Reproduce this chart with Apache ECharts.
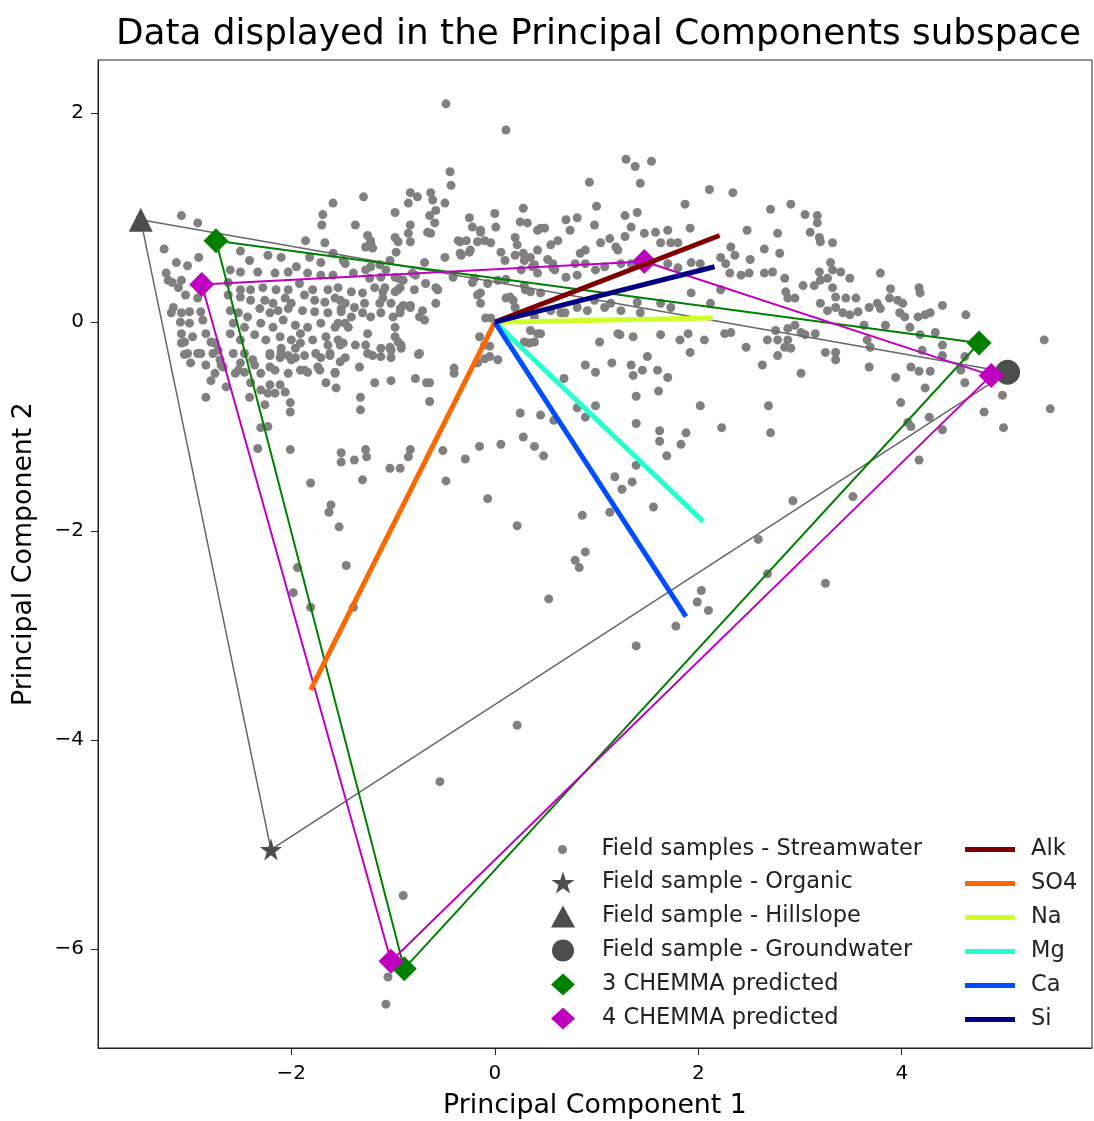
<!DOCTYPE html>
<html>
<head>
<meta charset="utf-8">
<title>PCA subspace</title>
<script src="https://cdn.jsdelivr.net/npm/echarts@6/dist/echarts.min.js"></script>
<style>
  html, body { margin: 0; padding: 0; background: #fff; }
  #chart { width: 1094px; height: 1121px; }
</style>
</head>
<body>
<div id="chart"></div>
<script>
// streamwater samples projected on PC1 / PC2
var streamwater = [
  [-3.08,1.02],[-2.92,0.95],[-1.59,1.14],[-1.29,1.20],[-1.69,1.03],[-1.70,0.93],[-1.37,0.93],[-1.25,0.83],[-1.22,0.76],[-3.25,0.70],
  [-3.13,0.57],[-3.02,0.54],[-2.91,0.62],[-2.50,0.68],[-3.23,0.47],[-3.17,0.38],[-3.11,0.33],[-3.16,0.14],[-1.86,0.78],[-1.67,0.76],
  [-2.41,0.59],[-2.60,0.50],[-2.50,0.48],[-2.33,0.48],[-2.23,0.64],[-2.10,0.62],[-2.16,0.47],[-2.03,0.48],[-1.95,0.53],[-1.82,0.62],
  [-1.71,0.57],[-1.59,0.66],[-1.49,0.59],[-1.84,0.47],[-1.71,0.45],[-1.59,0.45],[-3.21,0.40],[-3.08,0.40],[-3.04,0.26],[-2.92,0.23],
  [-2.62,0.38],[-2.50,0.31],[-2.40,0.31],[-2.28,0.33],[-2.15,0.31],[-2.03,0.31],[-1.92,0.37],[-1.79,0.31],[-1.64,0.31],[-1.54,0.33],
  [-2.62,0.26],[-2.50,0.24],[-2.40,0.21],[-2.26,0.21],[-2.18,0.18],[-2.06,0.23],[-2.00,0.18],[-1.87,0.26],[-1.77,0.21],[-1.67,0.19],
  [-1.57,0.23],[-1.47,0.18],[-3.18,0.09],[-3.08,0.09],[-3.00,0.10],[-2.89,0.10],[-3.09,0.00],[-3.00,-0.01],[-2.87,0.02],[-2.60,0.11],
  [-2.52,0.09],[-2.43,0.05],[-2.31,0.13],[-2.21,0.09],[-2.13,0.11],[-2.03,0.13],[-1.89,0.11],[-1.77,0.10],[-1.64,0.09],[-1.51,0.10],
  [-2.57,-0.01],[-2.46,-0.05],[-2.30,-0.01],[-2.18,-0.05],[-2.08,0.02],[-1.96,-0.03],[-1.84,-0.05],[-1.71,-0.01],[-1.57,-0.05],[-1.47,-0.01],
  [-3.08,-0.11],[-3.08,-0.20],[-2.97,-0.14],[-2.84,-0.11],[-2.75,-0.20],[-2.60,-0.11],[-2.50,-0.17],[-2.36,-0.12],[-2.25,-0.17],[-2.11,-0.14],
  [-2.00,-0.17],[-1.91,-0.11],[-1.79,-0.17],[-1.66,-0.14],[-1.54,-0.17],[-3.02,-0.30],[-2.89,-0.30],[-2.72,-0.27],[-2.57,-0.30],[-2.46,-0.30],
  [-2.38,-0.36],[-2.21,-0.30],[-2.10,-0.29],[-2.00,-0.36],[-1.87,-0.32],[-1.76,-0.30],[-1.62,-0.32],[-1.52,-0.38],[-2.99,-0.39],[-2.84,-0.41],
  [-2.69,-0.41],[-2.52,-0.46],[-2.16,-0.46],[-2.03,-0.49],[-1.87,-0.46],[-1.72,-0.46],[-1.57,-0.48],
  [-3.05,-0.19],[-2.79,-0.19],[-3.05,-0.31],[-2.92,-0.30],[-2.77,-0.30],[-2.70,-0.36],[-2.67,-0.43],[-2.75,-0.49],[-2.79,-0.56],[-2.64,-0.62],
  [-2.55,-0.49],[-2.50,-0.39],[-2.46,-0.48],[-2.36,-0.41],[-2.30,-0.49],[-2.40,-0.58],[-2.30,-0.65],[-2.21,-0.60],[-2.11,-0.60],[-2.16,-0.68],
  [-2.06,-0.67],[-2.23,-0.68],[-2.01,-0.77],[-2.01,-0.86],[-2.41,-0.72],[-2.26,-0.79],[-2.84,-0.72],[-2.30,-1.01],[-2.23,-1.00],[-2.33,-1.21],
  [-2.01,-1.22],[-2.21,-0.32],[-2.21,-0.43],[-2.11,-0.34],[-2.10,-0.25],[-2.03,-0.32],[-1.96,-0.25],[-1.96,-0.34],[-1.91,-0.20],[-1.91,-0.46],
  [-1.84,-0.48],[-1.74,-0.43],[-1.71,-0.34],[-1.64,-0.22],[-1.62,-0.30],[-1.52,-0.22],[-1.47,-0.34],[-1.57,-0.49],[-1.66,-0.58],[-1.56,-0.63],
  [-1.33,-0.43],[-1.27,-0.22],[-1.20,-0.32],[-1.12,-0.33],[-1.03,-0.25],[-1.02,-0.34],[-0.92,-0.25],[-0.75,-0.31],[-1.18,-0.58],[-1.02,-0.56],
  [-0.78,-0.54],[-0.67,-0.58],[-0.64,-0.76],[-1.32,-0.72],[-1.32,-0.84],[-1.51,-1.25],[-1.51,-1.34],[-1.38,-1.32],[-1.27,-1.22],[-1.26,-1.29],
  [-0.83,-1.22],[-0.85,-1.29],[-1.03,-1.40],[-0.93,-1.40],[-1.30,-1.51],[-1.81,-1.54],[-1.61,-1.75],[-1.63,-1.82],[-1.53,-1.96],[-1.46,-2.33],
  [-1.94,-2.35],[-1.98,-2.59],[-1.81,-2.73],[-1.39,-2.73],
  [-0.44,1.44],[-0.43,1.31],[-0.83,1.24],[-0.76,1.20],[-0.85,1.14],[-0.63,1.24],[-0.61,1.17],[-0.49,1.14],[-0.98,1.05],[-0.64,1.02],
  [-0.58,1.07],[-0.59,0.95],[-0.66,0.86],[-1.22,0.78],[-1.27,0.72],[-1.20,0.71],[-0.98,0.81],[-0.95,0.77],[-0.85,0.85],[-0.83,0.77],
  [-0.97,0.67],[-1.03,0.59],[-0.49,0.62],[-0.69,0.57],[-1.47,0.56],[-1.39,0.47],[-1.27,0.50],[-1.22,0.53],[-1.13,0.55],[-1.07,0.50],
  [-1.23,0.42],[-1.12,0.43],[-0.98,0.43],[-0.90,0.40],[-0.78,0.45],[-0.68,0.37],[-0.58,0.33],[-0.41,0.43],[-1.52,0.21],[-1.41,0.29],
  [-1.30,0.28],[-1.18,0.33],[-1.10,0.29],[-0.98,0.29],[-0.93,0.33],[-0.79,0.31],[-1.51,0.13],[-1.38,0.14],[-1.28,0.18],[-1.13,0.18],
  [-1.02,0.18],[-0.90,0.16],[-0.83,0.16],[-0.71,0.11],[-0.58,0.18],[-1.41,0.05],[-1.30,0.09],[-1.22,0.05],[-1.12,0.09],[-1.00,0.05],
  [-0.93,0.09],[-0.74,0.05],[-0.69,0.02],[-1.54,-0.01],[-1.44,-0.05],[-1.25,-0.11],[-0.98,-0.05],[-0.98,-0.14],[-0.95,-0.19],[-1.49,-0.20],
  [-1.37,-0.22],[-1.25,-0.30],[-1.12,-0.25],[-1.02,-0.27],[-0.74,-0.30],[-0.25,1.00],[-0.22,0.91],[-0.14,0.88],[-0.28,0.78],[-0.36,0.78],
  [-0.24,0.69],[-0.17,0.77],[-0.10,0.78],[-0.04,0.76],[0.00,1.04],[-0.33,0.64],[0.06,0.67],[0.10,0.59],[0.20,0.81],[0.28,1.09],
  [0.25,0.96],[0.32,0.95],[0.20,0.64],[0.28,0.66],[0.35,0.62],[0.39,0.55],[0.42,0.88],[-0.14,0.28],[-0.22,0.38],[-0.07,0.37],
  [0.03,0.40],[0.15,0.24],[0.18,0.21],[0.29,0.35],[0.35,0.29],[0.35,-0.08],[0.39,-0.19],[0.29,-0.19],[-0.10,-0.22],[-0.05,-0.33],
  [-0.09,0.04],
  [-0.48,2.09],[0.11,1.84],[1.29,1.56],[1.38,1.49],[1.54,1.54],[1.43,1.33],[0.93,1.34],[2.11,1.27],[1.87,1.13],[1.00,1.11],
  [1.28,1.02],[1.40,1.05],[0.98,0.93],[-0.83,0.93],[0.01,0.91],[-0.14,0.86],[-0.63,0.85],[-0.34,0.77],[0.22,0.74],[0.45,0.90],
  [0.49,0.90],[0.70,0.98],[0.81,1.00],[0.74,0.88],[0.55,0.74],[0.62,0.78],[1.04,0.76],[1.13,0.80],[1.19,0.72],[1.28,0.82],
  [1.47,0.85],[1.58,0.86],[1.70,0.88],[1.92,0.90],[0.89,0.69],[0.84,0.66],[1.21,0.69],[1.34,0.91],[1.63,0.76],[1.73,0.76],
  [1.80,0.76],[-0.34,0.66],[-0.25,0.67],[0.29,0.59],[0.42,0.69],[0.52,0.60],[0.57,0.56],[0.57,0.52],[0.79,0.56],[0.89,0.56],
  [-0.95,0.42],[-0.81,0.47],[-0.20,0.42],[0.11,0.41],[0.26,0.50],[0.37,0.53],[0.42,0.47],[0.59,0.50],[0.70,0.43],[0.81,0.45],
  [0.99,0.50],[1.08,0.53],[1.24,0.56],[1.34,0.56],[1.70,0.56],[1.80,0.52],[1.93,0.57],[2.02,0.56],[2.22,0.62],[2.27,0.56],
  [-1.08,0.33],[-0.95,0.31],[-0.56,0.31],[-1.10,0.23],[-0.93,0.13],[-0.83,0.14],[-0.17,0.26],[-0.14,0.18],[0.11,0.23],[0.20,0.14],
  [0.30,0.31],[0.45,0.28],[0.55,0.11],[0.69,0.09],[0.81,0.14],[0.91,0.11],[0.98,0.21],[1.08,0.14],[1.14,0.18],[1.24,0.11],
  [1.40,0.19],[1.43,0.09],[1.63,0.18],[1.73,0.14],[1.93,0.28],[2.12,0.18],[2.22,0.31],[-1.03,-0.24],[-0.92,-0.22],[-0.04,0.04],
  [0.39,0.05],[0.65,0.09],[1.21,-0.11],[1.36,-0.14],[1.63,-0.12],[1.82,-0.17],[1.90,-0.11],[2.06,-0.17],[2.26,-0.11],[1.03,-0.19],
  [0.42,-0.11],
  [2.34,1.24],[2.71,1.08],[2.91,1.13],[3.05,1.03],[3.17,1.02],[3.17,0.95],[3.10,0.86],[3.19,0.81],[3.20,0.77],[3.32,0.76],
  [2.48,0.88],[2.78,0.85],[2.32,0.72],[2.36,0.64],[2.51,0.60],[2.65,0.70],[2.80,0.66],[2.31,0.47],[2.42,0.45],[2.50,0.47],
  [2.65,0.47],[2.73,0.48],[2.85,0.42],[3.30,0.57],[3.32,0.50],[3.40,0.48],[3.19,0.48],[3.20,0.40],[3.14,0.35],[3.03,0.35],
  [3.27,0.42],[3.49,0.42],[3.79,0.47],[2.86,0.29],[2.88,0.23],[2.95,0.23],[3.32,0.33],[3.35,0.24],[3.45,0.23],[3.20,0.18],
  [3.27,0.11],[3.35,0.14],[3.42,0.09],[3.49,0.07],[3.55,0.23],[3.57,0.10],[3.68,0.14],[3.76,0.18],[3.79,0.13],[3.89,0.32],
  [3.88,0.23],[3.96,0.21],[3.98,0.09],[4.01,0.18],[4.03,0.05],[4.17,0.33],[4.18,0.28],[4.16,0.05],[4.23,0.07],[4.28,0.09],
  [4.40,0.16],[4.63,0.07],[4.33,-0.10],[3.84,-0.03],[3.63,-0.03],[3.66,-0.17],[3.69,-0.24],[3.68,-0.43],[4.08,-0.05],[4.18,-0.12],
  [4.20,-0.27],[4.40,-0.22],[4.40,-0.32],[4.62,-0.33],[2.95,-0.03],[3.01,-0.10],[2.88,-0.06],[2.76,-0.08],[2.78,-0.17],[2.68,-0.17],
  [2.88,-0.17],[2.85,-0.24],[2.78,-0.32],[2.91,-0.25],[3.05,-0.12],[3.15,-0.11],[3.25,-0.29],[3.35,-0.29],[3.35,-0.36],[2.63,-0.41],
  [2.47,-0.24],[2.32,-0.10],[3.01,-0.49],[3.94,-0.53],[4.09,-0.43],[4.17,-0.47],[4.28,-0.47],[4.23,-0.63],[3.99,-0.77],[4.06,-0.96],
  [4.27,-0.91],[4.40,-1.03],[4.17,-1.32],[4.81,-0.86],[4.99,-0.70],[5.00,-1.01],[5.40,-0.17],[5.46,-0.83],[2.69,-0.80],[2.71,-1.06],
  [2.23,-1.01],[4.58,-0.46],[4.62,-0.58],
  [2.02,-0.80],[4.09,-1.00],[2.93,-1.71],[3.52,-1.67],[2.59,-2.08],[2.68,-2.41],[3.25,-2.50],[2.03,-2.57],[1.99,-2.68],[2.10,-2.76],
  [-0.15,-0.14],[-0.05,-0.23],[-0.10,-0.35],[0.03,-0.36],[-0.17,-0.39],[-0.40,-0.44],[-0.40,-0.49],[-0.64,-0.58],[0.34,-0.20],[0.45,-0.11],
  [1.23,-0.12],[1.50,-0.33],[1.92,-0.29],[0.89,-0.41],[0.99,-0.48],[1.15,-0.39],[1.34,-0.41],[1.45,-0.46],[1.36,-0.51],[1.60,-0.46],
  [1.70,-0.53],[0.68,-0.54],[1.39,-0.71],[1.61,-0.66],[0.25,-0.87],[0.45,-0.89],[0.58,-0.94],[0.81,-0.82],[0.89,-0.91],[0.99,-0.80],
  [1.39,-0.97],[1.62,-1.04],[1.62,-1.14],[1.88,-1.06],[1.83,-1.17],[1.69,-1.28],[0.28,-1.10],[0.39,-1.19],[0.48,-1.28],[0.06,-1.17],
  [-0.15,-1.19],[-0.29,-1.31],[-0.51,-1.23],[-0.48,-1.52],[-0.07,-1.69],[0.22,-1.95],[1.39,-1.37],[1.18,-1.48],[1.35,-1.53],[1.25,-1.60],
  [1.56,-1.77],[1.13,-1.82],[0.86,-1.85],[0.89,-2.20],[0.79,-2.28],[0.83,-2.35],[0.53,-2.65],[1.78,-2.91],[1.39,-3.10],[0.22,-3.86],
  [-0.54,-4.40],[-0.90,-5.49],[-1.05,-6.27],[-1.07,-6.53]
];

// end members
var organic = [[-2.20, -5.05]];
var hillslope = [[-3.48, 0.98]];
var groundwater = [[5.04, -0.48]];

// CHEMMA predicted end members
var chemma3 = [[-2.74, 0.78], [4.76, -0.20], [-0.89, -6.19]];
var chemma4 = [[-2.88, 0.36], [1.47, 0.58], [4.88, -0.51], [-1.02, -6.12]];

// solute loadings
var solutes = ['Alk', 'SO4', 'Na', 'Mg', 'Ca', 'Si'];
var loadPC1 = [2.21, -1.81, 2.14, 2.05, 1.88, 2.16];
var loadPC2 = [0.83, -3.52, 0.04, -1.91, -2.82, 0.53];

var xTicks = [-2, 0, 2, 4];
var yTicks = [-6, -4, -2, 0, 2];
var xRange = [-3.9, 5.87];
var yRange = [-6.95, 2.51];

var soluteColors = ['#800000', '#ff6800', '#ceff29', '#29ffce', '#004dff', '#000080'];
var FONT = 'DejaVu Sans';
var STAR = 'path://M50,0L61.2,34.5L97.6,34.5L68.2,55.9L79.4,90.5L50,69.1L20.6,90.5L31.8,55.9L2.4,34.5L38.8,34.5Z';

function closeLoop(pts) {
  return pts.concat([pts[0]]);
}

function minus(v) {
  return String(v).replace('-', '\u2212');
}

function polyLine(data, color, width, z) {
  return {
    type: 'line', data: data, showSymbol: false, symbol: 'none', z: z,
    lineStyle: { color: color, width: width }, silent: true
  };
}

function marker(name, data, symbol, size, color, z) {
  return {
    name: name, type: 'scatter', data: data, symbol: symbol, symbolSize: size, z: z,
    itemStyle: { color: color, opacity: 1 }, silent: true
  };
}

var series = [
  marker('Field samples - Streamwater', streamwater, 'circle', 9, '#808080', 1),
  polyLine([hillslope[0], organic[0], groundwater[0], hillslope[0]], '#666666', 1.5, 2),
  marker('Field sample - Organic', organic, STAR, 22, '#4d4d4d', 3),
  marker('Field sample - Hillslope', hillslope, 'triangle', 24, '#4d4d4d', 3),
  marker('Field sample - Groundwater', groundwater, 'circle', 25, '#4d4d4d', 3),
  polyLine(closeLoop(chemma3), '#008000', 2, 4),
  marker('3 CHEMMA predicted', chemma3, 'diamond', 25, '#008000', 5),
  polyLine(closeLoop(chemma4), '#bf00bf', 2, 6),
  marker('4 CHEMMA predicted', chemma4, 'diamond', 25, '#bf00bf', 7)
];

for (var i = 0; i < solutes.length; i++) {
  series.push({
    name: solutes[i], type: 'line', z: 8, symbol: 'none', showSymbol: false, silent: true,
    data: [[0, 0], [loadPC1[i], loadPC2[i]]],
    itemStyle: { color: soluteColors[i] },
    lineStyle: { color: soluteColors[i], width: 5 }
  });
}

var legendText = { fontFamily: FONT, fontSize: 22.5, color: '#222', lineHeight: 22 };

var option = {
  animation: false,
  backgroundColor: '#fff',
  title: {
    text: 'Data displayed in the Principal Components subspace',
    left: 111, top: 12,
    textStyle: { fontFamily: FONT, fontSize: 35.8, fontWeight: 'normal', color: '#000' }
  },
  grid: {
    left: 98, right: 2, top: 60, bottom: 73,
    show: true, borderColor: '#222', borderWidth: 1,
    outerBoundsMode: 'none'
  },
  legend: [
    {
      data: ['Field samples - Streamwater'], orient: 'vertical',
      left: 558, top: 838, padding: 0, itemWidth: 24, itemHeight: 9, itemGap: 11,
      selectedMode: false,
      textStyle: Object.assign({ padding: [0, 0, 0, 22] }, legendText)
    },
    {
      data: ['Field sample - Organic', 'Field sample - Hillslope', 'Field sample - Groundwater',
             '3 CHEMMA predicted', '4 CHEMMA predicted'],
      orient: 'vertical', left: 551, top: 871, padding: 0,
      itemWidth: 24, itemHeight: 22, itemGap: 11, selectedMode: false,
      textStyle: Object.assign({ padding: [0, 0, 0, 22] }, legendText)
    },
    {
      data: solutes, orient: 'vertical', left: 965, top: 838, padding: 0,
      icon: 'rect', itemWidth: 50, itemHeight: 5, itemGap: 11, selectedMode: false,
      textStyle: Object.assign({ padding: [0, 0, 0, 11] }, legendText)
    }
  ],
  xAxis: {
    type: 'value', min: xRange[0], max: xRange[1],
    name: 'Principal Component 1', nameLocation: 'middle', nameGap: 45,
    nameTextStyle: { fontFamily: FONT, fontSize: 26.8, color: '#000' },
    splitLine: { show: false },
    axisLine: { show: true, onZero: false, lineStyle: { color: '#222', width: 1 } },
    axisTick: { show: true, length: 7, customValues: xTicks, lineStyle: { color: '#222' } },
    axisLabel: {
      customValues: xTicks, margin: 16, fontFamily: FONT, fontSize: 20, color: '#000',
      formatter: minus
    }
  },
  yAxis: {
    type: 'value', min: yRange[0], max: yRange[1],
    name: 'Principal Component 2', nameLocation: 'middle', nameGap: 60,
    nameTextStyle: { fontFamily: FONT, fontSize: 26.8, color: '#000' },
    splitLine: { show: false },
    axisLine: { show: true, onZero: false, lineStyle: { color: '#222', width: 1 } },
    axisTick: { show: true, length: 7, customValues: yTicks, lineStyle: { color: '#222' } },
    axisLabel: {
      customValues: yTicks, margin: 14, fontFamily: FONT, fontSize: 20, color: '#000',
      formatter: minus
    }
  },
  series: series
};

var myChart = echarts.init(document.getElementById('chart'));
myChart.setOption(option);
</script>
</body>
</html>
